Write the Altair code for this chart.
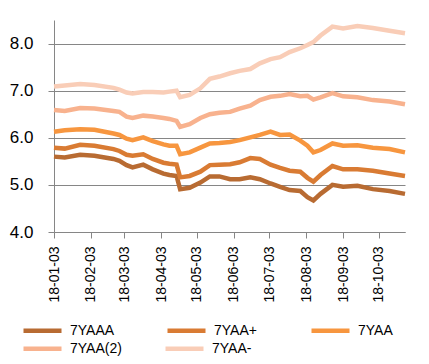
import altair as alt
import pandas as pd

dates = [
    "2018-01-03", "2018-01-12", "2018-01-25", "2018-02-06", "2018-02-22", "2018-02-27",
    "2018-03-05", "2018-03-10", "2018-03-19", "2018-03-27", "2018-04-05", "2018-04-10",
    "2018-04-16", "2018-04-19", "2018-04-27", "2018-05-06", "2018-05-14", "2018-05-22",
    "2018-05-31", "2018-06-08", "2018-06-17", "2018-06-25", "2018-07-04", "2018-07-12",
    "2018-07-20", "2018-07-29", "2018-08-04", "2018-08-09", "2018-08-15", "2018-08-25",
    "2018-09-03", "2018-09-15", "2018-09-28", "2018-10-12", "2018-10-25",
]

s_7yaaa = [5.60, 5.58, 5.64, 5.62, 5.55, 5.51, 5.42, 5.37, 5.43, 5.33, 5.24, 5.21,
           5.19, 4.91, 4.94, 5.05, 5.18, 5.18, 5.12, 5.12, 5.16, 5.12, 5.03, 4.96,
           4.89, 4.87, 4.74, 4.67, 4.81, 5.00, 4.96, 4.98, 4.91, 4.87, 4.81]
s_7yaa_plus = [5.79, 5.77, 5.85, 5.83, 5.76, 5.72, 5.64, 5.62, 5.65, 5.55, 5.47, 5.45,
               5.43, 5.16, 5.19, 5.28, 5.42, 5.43, 5.44, 5.48, 5.57, 5.55, 5.43, 5.36,
               5.30, 5.28, 5.15, 5.07, 5.21, 5.40, 5.33, 5.33, 5.30, 5.24, 5.19]
s_7yaa = [6.13, 6.16, 6.18, 6.17, 6.09, 6.06, 5.98, 5.95, 6.01, 5.93, 5.86, 5.83,
          5.83, 5.65, 5.69, 5.79, 5.88, 5.89, 5.91, 5.95, 6.01, 6.06, 6.13, 6.06,
          6.07, 5.94, 5.83, 5.69, 5.74, 5.88, 5.83, 5.84, 5.79, 5.76, 5.69]
s_7yaa_2 = [6.59, 6.57, 6.63, 6.62, 6.57, 6.55, 6.45, 6.42, 6.47, 6.45, 6.42, 6.40,
            6.36, 6.23, 6.29, 6.42, 6.50, 6.53, 6.55, 6.62, 6.68, 6.80, 6.87, 6.89,
            6.93, 6.88, 6.89, 6.81, 6.86, 6.95, 6.88, 6.86, 6.80, 6.77, 6.71]
s_7yaa_minus = [7.09, 7.11, 7.14, 7.12, 7.06, 7.02, 6.96, 6.94, 6.97, 6.97, 6.96, 6.98,
                7.00, 6.86, 6.91, 7.05, 7.25, 7.30, 7.37, 7.42, 7.46, 7.58, 7.67, 7.71,
                7.82, 7.90, 7.97, 8.03, 8.17, 8.36, 8.32, 8.37, 8.33, 8.27, 8.22]

series_names = ["7YAAA", "7YAA+", "7YAA", "7YAA(2)", "7YAA-"]
series_values = [s_7yaaa, s_7yaa_plus, s_7yaa, s_7yaa_2, s_7yaa_minus]
colors = ["#B86B32", "#D97B33", "#F7963F", "#F8B28E", "#F9CDB7"]
y_ticks = [4, 5, 6, 7, 8]
tick_months = list(range(1, 11))

rows = []
for name, vals in zip(series_names, series_values):
    for d, v in zip(dates, vals):
        rows.append({"date": d + "T00:00:00", "series": name, "value": v})
df = pd.DataFrame(rows)

tick_dates = [alt.DateTime(year=2018, month=m, date=3) for m in tick_months]
font = "Liberation Sans"
gray = "#868686"

x_enc = alt.X(
    "date:T",
    scale=alt.Scale(
        domain=[alt.DateTime(year=2018, month=1, date=3), alt.DateTime(year=2018, month=10, date=25)],
        nice=False,
    ),
    axis=alt.Axis(
        values=tick_dates, format="%y-%m-%d", labelAngle=270, title=None, grid=False,
        domainColor=gray, tickColor=gray, tickSize=6, labelPadding=8,
        labelFont=font, labelFontSize=14, labelColor="#000000",
    ),
)
y_enc = alt.Y(
    "value:Q",
    scale=alt.Scale(domain=[4, 8.5], nice=False, zero=False),
    axis=alt.Axis(
        values=y_ticks, format=".1f", title=None, grid=True, gridColor=gray,
        domainColor=gray, tickColor=gray, tickSize=6, labelPadding=15,
        labelFont=font, labelFontSize=17, labelColor="#000000",
    ),
)


def legend(y, pad):
    return alt.Legend(
        title=None, orient="none", legendX=-33, legendY=y, columns=3,
        direction="horizontal", symbolType="stroke", symbolSize=1444,
        symbolStrokeWidth=4.5, labelFont=font, labelFontSize=14, labelColor="#000000",
        gridAlign="all", columnPadding=pad, labelOffset=6, padding=0,
    )


row1 = series_names[:3]
row2 = series_names[3:]

layer1 = alt.Chart(df[df["series"].isin(row1)]).mark_line(strokeWidth=4.5).encode(
    x=x_enc, y=y_enc,
    color=alt.Color("series:N", scale=alt.Scale(domain=row1, range=colors[:3]), legend=legend(289, 43)),
)
layer2 = alt.Chart(df[df["series"].isin(row2)]).mark_line(strokeWidth=4.5).encode(
    x=x_enc, y=y_enc,
    color=alt.Color("series:N", scale=alt.Scale(domain=row2, range=colors[3:]), legend=legend(307, 34)),
)

chart = alt.layer(layer1, layer2).resolve_scale(color="independent").properties(
    width=351,
    height=212,
    autosize=alt.AutoSizeParams(type="none"),
    padding={"left": 46, "top": 12, "right": 16, "bottom": 124},
).configure_view(stroke=None)

chart.save("out.html", embed_options={"renderer": "svg", "actions": False})
